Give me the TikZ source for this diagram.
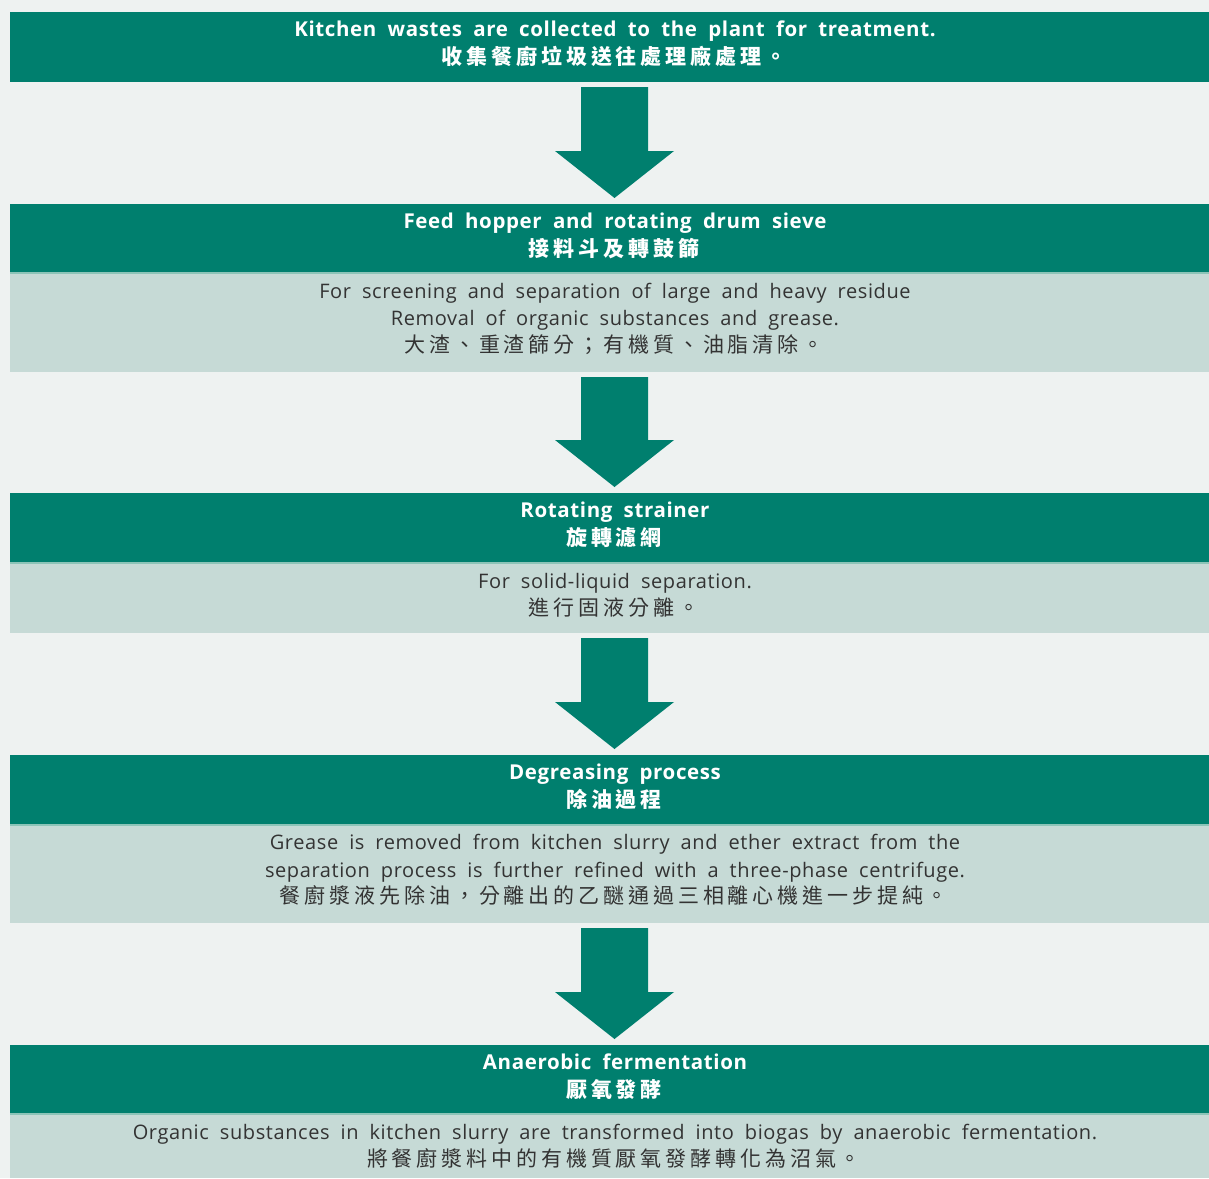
\documentclass[tikz,border=0pt]{standalone}
\usepackage{fontspec}
\setmainfont{Open Sans}[WordSpace=1.9, LetterSpace=3]
\newfontfamily\cjk{Noto Sans CJK TC}[LetterSpace=18.5]
\usetikzlibrary{calc}
\definecolor{tealA}{HTML}{007F6E}
\definecolor{bodybg}{HTML}{C6DAD6}
\definecolor{paper}{HTML}{EEF2F1}
\definecolor{ink}{HTML}{333333}
\definecolor{sepline}{HTML}{8CC4B8}
\newcommand\hdrfont{\fontsize{20.5}{27}\selectfont\bfseries}
\newcommand\hdrcjk{\cjk\fontsize{21}{27}\selectfont\bfseries}
\newcommand\bodyfont{\fontsize{20}{27}\selectfont}
\newcommand\bodycjk{\cjk\fontsize{21}{27}\selectfont}
\tikzset{
  hdr/.style={fill=tealA, draw=none, minimum width=1199pt, minimum height=#1, anchor=north west, inner sep=0pt, outer sep=0pt},
  bodybox/.style={fill=bodybg, draw=none, minimum width=1199pt, minimum height=#1, anchor=north west, inner sep=0pt, outer sep=0pt},
  htext/.style={anchor=base, text=white, font=\hdrfont, inner sep=0pt},
  hcjk/.style={anchor=base, text=white, font=\hdrcjk, inner sep=0pt},
  btext/.style={anchor=base, text=ink, font=\bodyfont, inner sep=0pt},
  bcjk/.style={anchor=base, text=ink, font=\bodycjk, inner sep=0pt},
  flow/.style={fill=tealA, draw=none},
  sep/.style={draw=sepline, line width=1.2pt}
}
\newcommand\flowarrow[2]{%
  \fill[flow] let \p1=(#1.south), \p2=(#2.north) in
    (581pt,\y1-5pt) -- (648pt,\y1-5pt) -- (648pt,\y2+53pt) -- (674pt,\y2+53pt)
    -- (614.5pt,\y2+6pt) -- (555pt,\y2+53pt) -- (581pt,\y2+53pt) -- cycle;}
\begin{document}
\begin{tikzpicture}[x=1pt,y=1pt]
\useasboundingbox (0,0) rectangle (1209,-1178);
\fill[paper] (0,0) rectangle (1209,-1178);

% box 1
\node[hdr=70pt] (h1) at (10,-12) {};
\node[htext] (h1e) at (615,-36.5) {Kitchen wastes are collected to the plant for treatment.};
\node[hcjk] (h1c) at (614,-64) {收集餐廚垃圾送往處理廠處理。};

% box 2
\node[hdr=69pt] (h2) at (10,-204) {};
\node[bodybox=99pt] (b2) at (10,-273) {};
\draw[sep] (b2.north west) -- (b2.north east);
\node[htext] (h2e) at (615,-228.5) {Feed hopper and rotating drum sieve};
\node[hcjk] (h2c) at (614,-256) {接料斗及轉鼓篩};
\node[btext] (b2a) at (615,-298.5) {For screening and separation of large and heavy residue};
\node[btext] (b2b) at (615,-325.5) {Removal of organic substances and grease.};
\node[bcjk] (b2c) at (614,-352.5) {大渣、重渣篩分；有機質、油脂清除。};

% box 3
\node[hdr=70pt] (h3) at (10,-493) {};
\node[bodybox=70pt] (b3) at (10,-563) {};
\draw[sep] (b3.north west) -- (b3.north east);
\node[htext] (h3e) at (615,-517.5) {Rotating strainer};
\node[hcjk] (h3c) at (614,-545) {旋轉濾網};
\node[btext] (b3a) at (615,-588) {For solid-liquid separation.};
\node[bcjk] (b3b) at (614,-615) {進行固液分離。};

% box 4
\node[hdr=70pt] (h4) at (10,-755) {};
\node[bodybox=98pt] (b4) at (10,-825) {};
\draw[sep] (b4.north west) -- (b4.north east);
\node[htext] (h4e) at (615,-779.5) {Degreasing process};
\node[hcjk] (h4c) at (614,-807) {除油過程};
\node[btext] (b4a) at (615,-849.5) {Grease is removed from kitchen slurry and ether extract from the};
\node[btext] (b4b) at (615,-877) {separation process is further refined with a three-phase centrifuge.};
\node[bcjk] (b4c) at (614,-903.5) {餐廚漿液先除油，分離出的乙醚通過三相離心機進一步提純。};

% box 5
\node[hdr=69pt] (h5) at (10,-1045) {};
\node[bodybox=64pt] (b5) at (10,-1114) {};
\draw[sep] (b5.north west) -- (b5.north east);
\node[htext] (h5e) at (615,-1069.5) {Anaerobic fermentation};
\node[hcjk] (h5c) at (614,-1097) {厭氧發酵};
\node[btext] (b5a) at (615,-1139) {Organic substances in kitchen slurry are transformed into biogas by anaerobic fermentation.};
\node[bcjk] (b5b) at (614,-1166) {將餐廚漿料中的有機質厭氧發酵轉化為沼氣。};

% arrows
\flowarrow{h1}{h2}
\flowarrow{b2}{h3}
\flowarrow{b3}{h4}
\flowarrow{b4}{h5}
\end{tikzpicture}
\end{document}
